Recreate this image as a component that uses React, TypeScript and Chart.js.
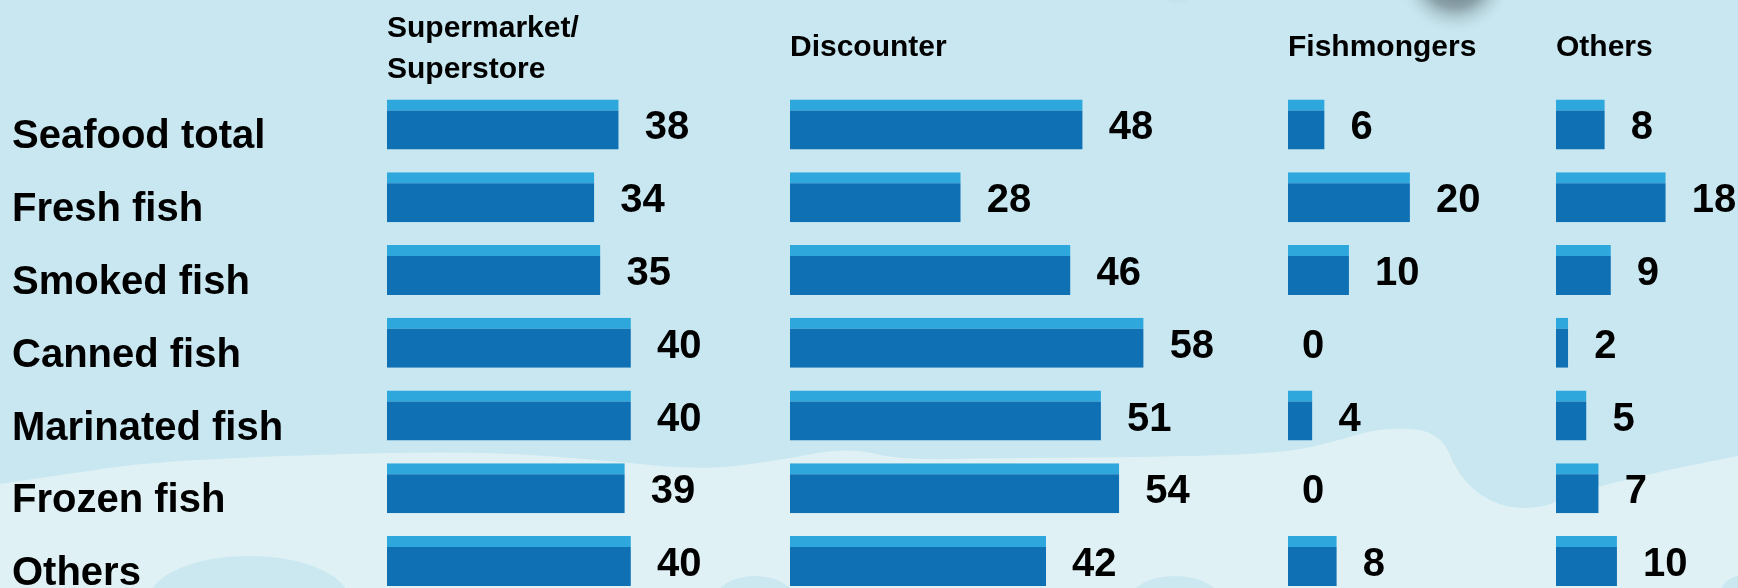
import React, { useEffect, useRef } from 'react';
import { Chart, registerables } from 'chart.js';

Chart.register(...registerables);

// ---- data ----
const categories = [
  'Seafood total',
  'Fresh fish',
  'Smoked fish',
  'Canned fish',
  'Marinated fish',
  'Frozen fish',
  'Others',
];
const channelTitles: (string | string[])[] = [
  ['Supermarket/', 'Superstore'],
  'Discounter',
  'Fishmongers',
  'Others',
];
const supermarketValues = [38, 34, 35, 40, 40, 39, 40];
const discounterValues = [48, 28, 46, 58, 51, 54, 42];
const fishmongerValues = [6, 20, 10, 0, 4, 0, 8];
const otherChannelValues = [8, 18, 9, 2, 5, 7, 10];

// ---- layout / style ----
const W = 1738;
const H = 600;
const PAD_LEFT = 12;
const AREA_LEFT = 387;
const AREA_TOP = 88;
const PAD_BOTTOM = 2.5;
const UNIT_PX = 6.097;
const COL_W = [403, 498, 268, 182];
const FONT = "'Liberation Sans', Arial, Helvetica, sans-serif";
const BAR_DARK = '#0f70b4';
const BAR_LIGHT = '#2ea8dc';
const BG = '#c8e7f0';
const BG_LIGHT = '#dff1f4';

const backgroundPlugin = {
  id: 'seaBackground',
  beforeDraw(chart: any) {
    const ctx = chart.ctx as CanvasRenderingContext2D;
    const w = chart.width;
    const h = chart.height;
    ctx.save();
    ctx.fillStyle = BG;
    ctx.fillRect(0, 0, w, h);

    // lighter wave region in the lower part
    const pts: [number, number][] = [
      [0, 484], [80, 472], [153, 462], [300, 455], [478, 451], [600, 460],
      [700, 470], [770, 462], [848, 447], [900, 460], [1000, 458],
      [1160, 457], [1286, 453], [1340, 440], [1380, 428], [1440, 430],
      [1460, 480], [1500, 508], [1545, 508], [1570, 494], [1657, 472],
      [1738, 456],
    ];
    ctx.beginPath();
    ctx.moveTo(pts[0][0], pts[0][1]);
    for (let i = 1; i < pts.length - 1; i++) {
      const mx = (pts[i][0] + pts[i + 1][0]) / 2;
      const my = (pts[i][1] + pts[i + 1][1]) / 2;
      ctx.quadraticCurveTo(pts[i][0], pts[i][1], mx, my);
    }
    ctx.lineTo(pts[pts.length - 1][0], pts[pts.length - 1][1]);
    ctx.lineTo(w, h);
    ctx.lineTo(0, h);
    ctx.closePath();
    ctx.fillStyle = BG_LIGHT;
    ctx.fill();

    // darker blobs at the bottom
    ctx.fillStyle = '#cbe8f0';
    const blobs: [number, number, number, number][] = [
      [249, 600, 100, 44],
      [755, 600, 40, 24],
      [1175, 600, 45, 24],
      [1745, 595, 25, 20],
    ];
    for (const [x, y, rx, ry] of blobs) {
      ctx.beginPath();
      ctx.ellipse(x, y, rx, ry, 0, 0, Math.PI * 2);
      ctx.fill();
    }

    // dark shadow shapes at the top edge
    const shadow = (cx: number, cy: number, r: number, a: number) => {
      const g = ctx.createRadialGradient(cx, cy, 0, cx, cy, r);
      g.addColorStop(0, `rgba(60,70,75,${a})`);
      g.addColorStop(0.55, `rgba(90,105,112,${a * 0.55})`);
      g.addColorStop(1, 'rgba(200,231,240,0)');
      ctx.fillStyle = g;
      ctx.beginPath();
      ctx.arc(cx, cy, r, 0, Math.PI * 2);
      ctx.fill();
    };
    shadow(1455, -25, 60, 0.95);
    shadow(1178, -22, 28, 0.45);
    ctx.restore();
  },
};

const valueLabelPlugin = {
  id: 'valueLabels',
  afterDatasetsDraw(chart: any) {
    const ctx = chart.ctx as CanvasRenderingContext2D;
    ctx.save();
    ctx.font = `bold 40px ${FONT}`;
    ctx.fillStyle = '#000';
    ctx.textAlign = 'left';
    ctx.textBaseline = 'middle';
    chart.data.datasets.forEach((ds: any, di: number) => {
      const meta = chart.getDatasetMeta(di);
      meta.data.forEach((el: any, i: number) => {
        const v = ds.data[i];
        const gap = v === 0 ? 14 : 26;
        ctx.fillText(String(v), el.x + gap, el.y + 4);
      });
    });
    ctx.restore();
  },
};

function xAxis(index: number) {
  const multi = Array.isArray(channelTitles[index]);
  return {
    type: 'linear',
    position: 'top',
    stack: 'channels',
    stackWeight: COL_W[index],
    weight: 10 - index,
    min: 0,
    max: COL_W[index] / UNIT_PX,
    grid: { display: false },
    border: { display: false },
    ticks: { display: false },
    title: {
      display: true,
      text: channelTitles[index],
      align: 'start',
      color: '#000',
      font: { family: FONT, size: 30, weight: 'bold', lineHeight: 1.37 },
      padding: { top: multi ? 8.5 : 27, bottom: 0 },
    },
    afterFit: (s: any) => {
      s.height = AREA_TOP;
    },
  };
}

export default function App() {
  const canvasRef = useRef<HTMLCanvasElement | null>(null);

  useEffect(() => {
    if (!canvasRef.current) return;
    const series = [supermarketValues, discounterValues, fishmongerValues, otherChannelValues];
    const chart = new Chart(canvasRef.current, {
      type: 'bar',
      data: {
        labels: categories,
        datasets: series.map((d, i) => ({
          label: Array.isArray(channelTitles[i])
            ? (channelTitles[i] as string[]).join(' ')
            : (channelTitles[i] as string),
          data: d,
          xAxisID: 'x' + i,
          yAxisID: 'y',
          backgroundColor: BAR_DARK,
          borderColor: BAR_LIGHT,
          borderWidth: { top: 11, right: 0, bottom: 0, left: 0 },
          borderSkipped: false,
          inflateAmount: 0,
          grouped: false,
          barPercentage: 0.687,
          categoryPercentage: 1,
        })),
      },
      options: {
        indexAxis: 'y',
        animation: false,
        responsive: false,
        maintainAspectRatio: false,
        layout: { padding: { left: PAD_LEFT, right: 0, top: 0, bottom: PAD_BOTTOM } },
        plugins: {
          legend: { display: false },
          tooltip: { enabled: false },
        },
        scales: {
          y: {
            type: 'category',
            position: 'left',
            grid: { display: false },
            border: { display: false },
            ticks: {
              color: '#000',
              font: { family: FONT, size: 40, weight: 'bold' },
              crossAlign: 'far',
              labelOffset: 13,
              autoSkip: false,
              padding: 0,
            },
            afterFit: (s: any) => {
              s.width = AREA_LEFT - PAD_LEFT;
              s.paddingTop = 0;
              s.paddingBottom = 0;
            },
          },
          x0: xAxis(0),
          x1: xAxis(1),
          x2: xAxis(2),
          x3: xAxis(3),
        } as any,
      },
      plugins: [backgroundPlugin, valueLabelPlugin],
    } as any);
    return () => chart.destroy();
  }, []);

  return (
    <div
      style={{
        position: 'fixed',
        left: 0,
        top: 0,
        width: W,
        height: 588,
        overflow: 'hidden',
        background: BG,
      }}
    >
      <canvas
        ref={canvasRef}
        width={W}
        height={H}
        style={{ display: 'block', width: W, height: H }}
      />
    </div>
  );
}
